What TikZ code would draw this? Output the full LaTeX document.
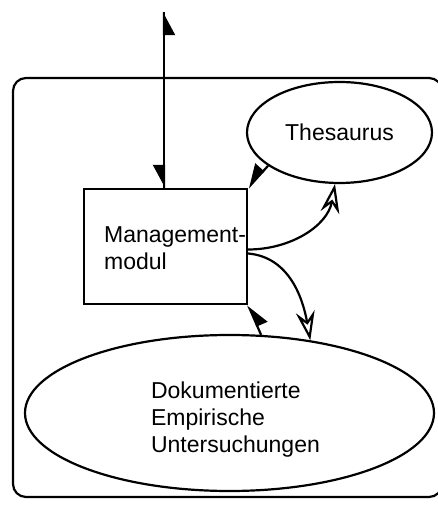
\documentclass[tikz,border=0pt]{standalone}
\usepackage{fontspec}
\setmainfont{Liberation Sans}
\usepackage{tikz}
\usetikzlibrary{arrows.meta}
\usetikzlibrary{shapes.geometric}
\tikzset{
    modul/.style={draw=black, rectangle, minimum width=163pt, minimum height=115pt, inner sep=0pt},
    speicher/.style={draw=black, ellipse, inner sep=0pt},
    beschriftung/.style={align=left, anchor=west, inner sep=0pt, font=\fontsize{23}{27}\selectfont},
    halbpfeil/.style={-{Triangle[harpoon,swap,length=21pt,width=22pt]}},
    fluss/.style={-{Stealth[open,length=29pt,width=19pt,inset=10pt]}},
}

\begin{document}
\begin{tikzpicture}[x=1pt, y=1pt, line width=2.2pt]
\useasboundingbox (0,0) rectangle (438,506);
\clip (0,0) rectangle (438,506);
% \draw[step=10pt, very thin, transparent] (0,0) grid (438,506);
\draw[rounded corners=13pt] (13,9) rectangle (442,428);
\node[modul] (mgmt) at (165.5,259.5) {};
\node[beschriftung] (mgmttxt) at (103,258) {Management-\\modul};
\node[speicher, minimum width=185pt, minimum height=101pt] (thes) at (339.5,373.5) {};
\node[beschriftung, anchor=center] (thestxt) at (thes.center) {Thesaurus};
\node[speicher, minimum width=409pt, minimum height=156pt] (doku) at (229.5,93) {};
\node[beschriftung] (dokutxt) at (150,86) {Dokumentierte\\Empirische\\Untersuchungen};
\coordinate (oben) at (164,494);
\draw[halbpfeil] (oben |- mgmt.north) -- (oben);
\draw[halbpfeil] (oben) -- (oben |- mgmt.north);
\draw[halbpfeil] (thes.205) -- (mgmt.north east);
\draw[halbpfeil] (doku.68) -- (mgmt.south east);
\draw[fluss] ([yshift=-3pt]mgmt.east) to[out=0, in=-100] (thes.265);
\draw[fluss] ([yshift=-7pt]mgmt.east) to[out=-5, in=100] (doku.42);
\end{tikzpicture}
\end{document}
